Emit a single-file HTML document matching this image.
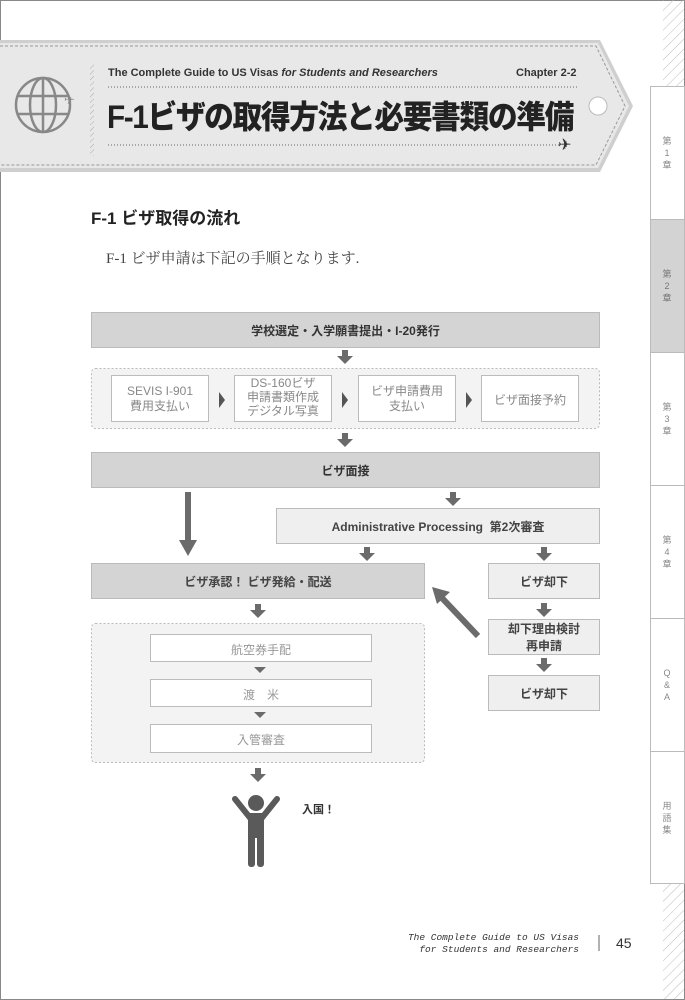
<!DOCTYPE html>
<html><head><meta charset="utf-8"><style>
body{margin:0;background:#fff}
#p{position:relative;width:685px;height:1000px;overflow:hidden;font-family:"Liberation Sans","Noto Sans CJK JP",sans-serif;}
.t{position:absolute;white-space:nowrap}
</style></head><body><div id="p">
<svg width="685" height="1000" style="position:absolute;left:0;top:0">
<defs>
<pattern id="h" width="7" height="7" patternUnits="userSpaceOnUse" patternTransform="rotate(45)"><line x1="0" y1="0" x2="0" y2="7" stroke="#bbb" stroke-width="1"/></pattern>
<pattern id="h2" width="4" height="4" patternUnits="userSpaceOnUse" patternTransform="rotate(45)"><line x1="0" y1="0" x2="0" y2="4" stroke="#aaa" stroke-width="1"/></pattern>
<g id="ar"><rect x="-3" y="0" width="6" height="7" fill="#6b6b6b"/><polygon points="-8,6 8,6 0,14" fill="#6b6b6b"/></g>
<g id="sa"><polygon points="-6,0 6,0 0,6" fill="#6b6b6b"/></g>
<g id="ra"><polygon points="0,-8 6,0 0,8" fill="#555"/></g>
</defs>
<rect x="0.5" y="0.5" width="684" height="999" fill="none" stroke="#888"/>
<rect x="663" y="0" width="21" height="86" fill="url(#h)"/>
<rect x="663" y="884" width="21" height="115" fill="url(#h)"/>
<rect x="650.5" y="86.5" width="34" height="797" fill="#fff" stroke="#bbb"/>
<rect x="651" y="220" width="33" height="132" fill="#d3d3d3"/>
<g stroke="#bbb"><line x1="650" y1="219.5" x2="684" y2="219.5"/><line x1="650" y1="352.5" x2="684" y2="352.5"/><line x1="650" y1="485.5" x2="684" y2="485.5"/><line x1="650" y1="618.5" x2="684" y2="618.5"/><line x1="650" y1="751.5" x2="684" y2="751.5"/></g>
<polygon points="0,40 600,40 633,106 600,172 0,172" fill="#cfcfcf"/>
<polygon points="0,43 598,43 629,106 598,168 0,168" fill="#e8e8e8"/>
<polyline points="0,46 596,46 625,106 596,165 0,165" fill="none" stroke="#999" stroke-dasharray="3,2"/>
<circle cx="598" cy="106" r="9" fill="#fff" stroke="#bbb"/>
<rect x="90" y="64" width="4" height="92" fill="url(#h2)"/>
<line x1="108" y1="87" x2="577" y2="87" stroke="#666" stroke-dasharray="1,2"/>
<line x1="108" y1="145" x2="560" y2="145" stroke="#666" stroke-dasharray="1,2"/>
<text x="558" y="150" font-size="16" fill="#333">✈</text>
<g fill="none" stroke="#888" stroke-width="2.5"><circle cx="43" cy="105" r="27"/><ellipse cx="43" cy="105" rx="13" ry="27"/><line x1="43" y1="78" x2="43" y2="132"/><line x1="17" y1="96" x2="69" y2="96"/><line x1="17" y1="114" x2="69" y2="114"/></g>
<text x="64" y="104" font-size="13" fill="#888">✈</text>
<rect x="91.5" y="312.5" width="508" height="35" fill="#d4d4d4" stroke="#bbb"/>
<use href="#ar" x="345" y="350"/>
<rect x="91.5" y="368.5" width="508" height="60" rx="4" fill="#f3f3f3" stroke="#bbb" stroke-dasharray="2,2"/>
<g fill="#fff" stroke="#bbb"><rect x="111.5" y="375.5" width="97" height="46"/><rect x="234.5" y="375.5" width="97" height="46"/><rect x="358.5" y="375.5" width="97" height="46"/><rect x="481.5" y="375.5" width="97" height="46"/></g>
<use href="#ra" x="219" y="400"/><use href="#ra" x="342" y="400"/><use href="#ra" x="466" y="400"/>
<use href="#ar" x="345" y="433"/>
<rect x="91.5" y="452.5" width="508" height="35" fill="#d4d4d4" stroke="#bbb"/>
<rect x="185" y="492" width="6" height="50" fill="#6b6b6b"/><polygon points="179,540 197,540 188,556" fill="#6b6b6b"/>
<use href="#ar" x="453" y="492"/>
<rect x="276.5" y="508.5" width="323" height="35" fill="#efefef" stroke="#bbb"/>
<use href="#ar" x="367" y="547"/><use href="#ar" x="544" y="547"/>
<rect x="91.5" y="563.5" width="333" height="35" fill="#d4d4d4" stroke="#bbb"/>
<rect x="488.5" y="563.5" width="111" height="35" fill="#efefef" stroke="#bbb"/>
<use href="#ar" x="544" y="603"/>
<rect x="488.5" y="619.5" width="111" height="35" fill="#efefef" stroke="#bbb"/>
<use href="#ar" x="544" y="658"/>
<rect x="488.5" y="675.5" width="111" height="35" fill="#efefef" stroke="#bbb"/>
<line x1="478" y1="636" x2="442" y2="598" stroke="#6b6b6b" stroke-width="6"/><polygon points="432,587 450,592 437,604" fill="#6b6b6b"/>
<use href="#ar" x="258" y="604"/>
<rect x="91.5" y="623.5" width="333" height="139" rx="4" fill="#f3f3f3" stroke="#bbb" stroke-dasharray="2,2"/>
<g fill="#fff" stroke="#bbb"><rect x="150.5" y="634.5" width="221" height="27"/><rect x="150.5" y="679.5" width="221" height="27"/><rect x="150.5" y="724.5" width="221" height="28"/></g>
<use href="#sa" x="260" y="667"/><use href="#sa" x="260" y="712"/>
<use href="#ar" x="258" y="768"/>
<g fill="#5a5a5a"><circle cx="256" cy="803" r="8"/><rect x="248" y="813" width="16" height="25" rx="2"/><rect x="248" y="832" width="7" height="35" rx="3"/><rect x="257" y="832" width="7" height="35" rx="3"/></g>
<g stroke="#5a5a5a" stroke-width="6" stroke-linecap="round"><line x1="251" y1="819" x2="235" y2="799"/><line x1="261" y1="819" x2="277" y2="799"/></g>
<line x1="599" y1="935" x2="599" y2="951" stroke="#666"/>
</svg>
<div class="t" style="left:108px;top:67px;font-size:11px;font-weight:bold;color:#333;font-family:'Liberation Sans Narrow','Liberation Sans',sans-serif">The Complete Guide to US Visas <i>for Students and Researchers</i></div>
<div class="t" style="left:516px;top:67px;font-size:11px;font-weight:bold;color:#333;font-family:'Liberation Sans Narrow','Liberation Sans',sans-serif">Chapter 2-2</div>
<div class="t" style="left:107px;top:92px;font-size:32px;font-weight:900;color:#222;letter-spacing:-1.5px;transform:scaleX(0.93);transform-origin:left">F-1ビザの取得方法と必要書類の準備</div>
<div class="t" style="left:91px;top:204px;font-size:17px;font-weight:bold;color:#222">F-1 ビザ取得の流れ</div>
<div class="t" style="left:106px;top:247px;font-size:15px;color:#444;font-family:'Liberation Serif','Noto Serif CJK SC',serif">F-1 ビザ申請は下記の手順となります.</div>
<div class="t" style="left:91px;top:322px;width:509px;text-align:center;font-size:12px;font-weight:bold;color:#333">学校選定・入学願書提出・I-20発行</div>
<div class="t" style="left:111px;top:384px;width:98px;text-align:center;font-size:12px;line-height:15px;color:#888">SEVIS I-901<br>費用支払い</div>
<div class="t" style="left:234px;top:376px;width:98px;text-align:center;font-size:12px;line-height:14px;color:#888">DS-160ビザ<br>申請書類作成<br>デジタル写真</div>
<div class="t" style="left:358px;top:384px;width:98px;text-align:center;font-size:12px;line-height:15px;color:#888">ビザ申請費用<br>支払い</div>
<div class="t" style="left:481px;top:391px;width:98px;text-align:center;font-size:12px;color:#888">ビザ面接予約</div>
<div class="t" style="left:91px;top:462px;width:509px;text-align:center;font-size:12px;font-weight:bold;color:#333">ビザ面接</div>
<div class="t" style="left:276px;top:518px;width:324px;text-align:center;font-size:12px;font-weight:bold;color:#444">Administrative Processing&nbsp; 第2次審査</div>
<div class="t" style="left:91px;top:573px;width:334px;text-align:center;font-size:12px;font-weight:bold;color:#444">ビザ承認！ ビザ発給・配送</div>
<div class="t" style="left:488px;top:573px;width:112px;text-align:center;font-size:12px;font-weight:bold;color:#444">ビザ却下</div>
<div class="t" style="left:488px;top:621px;width:112px;text-align:center;font-size:12px;line-height:17px;font-weight:bold;color:#444">却下理由検討<br>再申請</div>
<div class="t" style="left:488px;top:685px;width:112px;text-align:center;font-size:12px;font-weight:bold;color:#444">ビザ却下</div>
<div class="t" style="left:150px;top:641px;width:222px;text-align:center;font-size:12px;color:#999">航空券手配</div>
<div class="t" style="left:150px;top:686px;width:222px;text-align:center;font-size:12px;color:#999">渡　米</div>
<div class="t" style="left:150px;top:731px;width:222px;text-align:center;font-size:12px;color:#999">入管審査</div>
<div class="t" style="left:302px;top:801px;font-size:11px;font-weight:bold;color:#333">入国！</div>
<div class="t" style="left:360px;top:932px;width:219px;text-align:right;font-size:9.5px;line-height:12px;font-style:italic;color:#333;font-family:'Liberation Mono',monospace">The Complete Guide to US Visas<br>for Students and Researchers</div>
<div class="t" style="left:616px;top:935px;font-size:14px;color:#333">45</div>
<div class="t" style="left:650px;top:135px;width:34px;text-align:center;font-size:9px;line-height:12px;color:#888">第<br>1<br>章</div>
<div class="t" style="left:650px;top:268px;width:34px;text-align:center;font-size:9px;line-height:12px;color:#777">第<br>2<br>章</div>
<div class="t" style="left:650px;top:401px;width:34px;text-align:center;font-size:9px;line-height:12px;color:#888">第<br>3<br>章</div>
<div class="t" style="left:650px;top:534px;width:34px;text-align:center;font-size:9px;line-height:12px;color:#888">第<br>4<br>章</div>
<div class="t" style="left:650px;top:667px;width:34px;text-align:center;font-size:9px;line-height:12px;color:#888">Q<br>&amp;<br>A</div>
<div class="t" style="left:650px;top:800px;width:34px;text-align:center;font-size:9px;line-height:12px;color:#888">用<br>語<br>集</div>
</div></body></html>
